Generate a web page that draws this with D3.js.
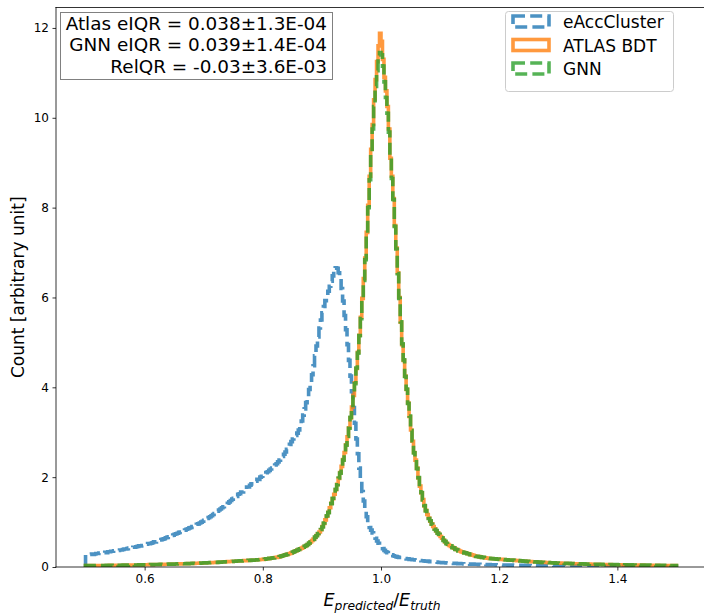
<!DOCTYPE html>
<html>
<head>
<meta charset="utf-8">
<script src="https://cdn.jsdelivr.net/npm/d3@7"></script>
<style>
  html, body { margin: 0; padding: 0; background: #fff; }
  svg { display: block; font-family: "DejaVu Sans", sans-serif; }
</style>
</head>
<body>
<svg id="chart" width="704" height="616"></svg>
<script>
// Histogram binning: 400 bins of width 0.0025 covering [0.5, 1.5]
const binStart = 0.5;
const binWidth = 0.0025;

// eAccCluster normalised counts per bin
const eAccCluster = [
  0.27,0.27,0.28,0.28,0.29,0.28,0.29,0.30,0.30,0.31,0.31,0.31,0.32,0.33,0.32,0.34,0.34,0.35,0.35,0.36,
  0.36,0.37,0.37,0.38,0.38,0.39,0.40,0.40,0.41,0.42,0.42,0.43,0.44,0.44,0.45,0.46,0.47,0.47,0.48,0.49,
  0.50,0.51,0.52,0.52,0.53,0.54,0.56,0.56,0.58,0.59,0.60,0.61,0.62,0.63,0.65,0.66,0.67,0.68,0.70,0.71,
  0.73,0.74,0.75,0.77,0.78,0.80,0.81,0.82,0.84,0.85,0.87,0.88,0.90,0.92,0.93,0.95,0.96,0.98,1.00,1.02,
  1.04,1.06,1.08,1.10,1.12,1.14,1.17,1.19,1.22,1.24,1.27,1.29,1.32,1.34,1.37,1.39,1.42,1.45,1.48,1.51,
  1.53,1.57,1.57,1.62,1.63,1.67,1.67,1.72,1.73,1.78,1.78,1.82,1.85,1.85,1.90,1.91,1.95,1.95,2.00,2.02,
  2.05,2.07,2.10,2.12,2.15,2.18,2.20,2.24,2.27,2.30,2.34,2.38,2.42,2.46,2.51,2.56,2.62,2.67,2.73,2.79,
  2.85,2.89,2.93,2.98,3.05,3.14,3.25,3.38,3.52,3.66,3.80,3.95,4.10,4.28,4.48,4.70,4.92,5.12,5.32,5.50,
  5.66,5.80,5.93,6.04,6.14,6.25,6.36,6.48,6.58,6.66,6.65,6.55,6.42,6.20,5.92,5.60,5.28,4.95,4.60,4.25,
  3.90,3.55,3.20,2.85,2.52,2.20,1.92,1.68,1.47,1.28,1.12,0.99,0.88,0.82,0.76,0.70,0.64,0.58,0.53,0.49,
  0.45,0.41,0.37,0.34,0.32,0.30,0.28,0.27,0.25,0.24,0.23,0.22,0.21,0.21,0.20,0.19,0.19,0.18,0.18,0.17,
  0.17,0.16,0.16,0.155,0.15,0.15,0.145,0.14,0.14,0.135,0.13,0.13,0.125,0.12,0.12,0.115,0.11,0.11,0.105,0.10,
  0.10,0.098,0.095,0.093,0.09,0.088,0.086,0.085,0.083,0.081,0.08,0.078,0.076,0.075,0.073,0.072,0.07,0.069,0.068,0.066,
  0.065,0.064,0.063,0.062,0.061,0.06,0.059,0.058,0.057,0.056,0.055,0.054,0.053,0.052,0.051,0.05,0.05,0.049,0.048,0.047,
  0.046,0.046,0.045,0.044,0.044,0.043,0.042,0.042,0.041,0.04,0.04,0.039,0.039,0.038,0.038,0.037,0.037,0.036,0.036,0.035,
  0.035,0.034,0.034,0.033,0.033,0.033,0.032,0.032,0.031,0.031,0.031,0.03,0.03,0.03,0.029,0.029,0.029,0.028,0.028,0.028,
  0.027,0.027,0.027,0.027,0.026,0.026,0.026,0.026,0.025,0.025,0.025,0.025,0.025,0.024,0.024,0.024,0.024,0.024,0.023,0.023,
  0.023,0.023,0.023,0.022,0.022,0.022,0.022,0.022,0.022,0.021,0.021,0.021,0.021,0.021,0.021,0.020,0.020,0.020,0.020,0.020,
  0.020,0.019,0.019,0.019,0.019,0.019,0.019,0.018,0.018,0.018,0.018,0.018,0.018,0.018,0.017,0.017,0.017,0.017,0.017,0.017,
  0.017,0.016,0.016,0.016,0.016,0.016,0.016,0.016,0.016,0.016,0.015,0.015,0.015,0.015,0.015,0.015,0.015,0.015,0.015,0.015
];

// ATLAS BDT normalised counts per bin
const atlasBDT = [
  0.030,0.030,0.031,0.031,0.031,0.032,0.032,0.032,0.033,0.033,0.033,0.034,0.034,0.035,0.035,0.035,0.036,0.036,0.037,0.037,
  0.038,0.038,0.039,0.039,0.040,0.040,0.041,0.041,0.042,0.042,0.043,0.044,0.044,0.045,0.045,0.046,0.047,0.047,0.048,0.049,
  0.050,0.050,0.051,0.052,0.052,0.053,0.054,0.055,0.055,0.056,0.057,0.058,0.059,0.060,0.060,0.061,0.062,0.063,0.064,0.065,
  0.066,0.067,0.068,0.069,0.070,0.071,0.072,0.073,0.074,0.075,0.077,0.078,0.079,0.080,0.082,0.083,0.084,0.086,0.087,0.089,
  0.090,0.092,0.093,0.095,0.096,0.098,0.100,0.101,0.103,0.105,0.107,0.109,0.111,0.113,0.115,0.117,0.119,0.121,0.123,0.125,
  0.127,0.129,0.131,0.133,0.135,0.137,0.139,0.141,0.143,0.145,0.147,0.149,0.151,0.153,0.155,0.157,0.160,0.163,0.166,0.168,
  0.170,0.175,0.180,0.185,0.190,0.195,0.200,0.205,0.210,0.215,0.220,0.230,0.240,0.250,0.260,0.270,0.280,0.290,0.300,0.315,
  0.330,0.345,0.360,0.375,0.390,0.405,0.420,0.440,0.460,0.480,0.50,0.53,0.56,0.59,0.62,0.66,0.70,0.74,0.78,0.83,
  0.90,0.97,1.05,1.13,1.22,1.32,1.42,1.52,1.62,1.72,1.84,1.97,2.10,2.24,2.39,2.55,2.72,2.90,3.10,3.32,
  3.56,3.82,4.10,4.42,4.78,5.16,5.56,5.98,6.42,6.88,7.45,8.05,8.70,9.30,9.85,10.40,10.85,11.25,11.60,11.88,
  11.70,11.30,10.90,10.60,10.25,9.75,9.10,8.70,8.20,7.60,7.10,6.55,6.00,5.45,4.95,4.60,4.25,3.95,3.65,3.35,
  3.05,2.80,2.55,2.38,2.20,1.98,1.80,1.65,1.50,1.36,1.26,1.17,1.09,1.02,0.96,0.90,0.85,0.80,0.76,0.72,
  0.68,0.64,0.60,0.56,0.53,0.50,0.48,0.46,0.44,0.42,0.40,0.385,0.37,0.355,0.34,0.33,0.32,0.31,0.30,0.29,
  0.28,0.27,0.26,0.25,0.24,0.235,0.23,0.22,0.215,0.21,0.205,0.200,0.195,0.190,0.188,0.185,0.182,0.180,0.177,0.175,
  0.172,0.170,0.167,0.165,0.162,0.160,0.157,0.155,0.152,0.150,0.147,0.145,0.142,0.140,0.137,0.135,0.132,0.130,0.127,0.125,
  0.122,0.120,0.118,0.116,0.114,0.112,0.110,0.108,0.106,0.104,0.102,0.100,0.099,0.097,0.096,0.094,0.093,0.091,0.090,0.088,
  0.087,0.086,0.084,0.083,0.082,0.080,0.079,0.078,0.077,0.076,0.074,0.073,0.072,0.071,0.070,0.069,0.068,0.067,0.066,0.065,
  0.064,0.063,0.062,0.061,0.060,0.059,0.059,0.058,0.057,0.056,0.055,0.055,0.054,0.053,0.053,0.052,0.051,0.051,0.050,0.050,
  0.049,0.049,0.048,0.048,0.047,0.047,0.046,0.046,0.045,0.045,0.044,0.044,0.043,0.043,0.042,0.042,0.041,0.041,0.040,0.040,
  0.039,0.039,0.038,0.038,0.037,0.037,0.036,0.036,0.035,0.035,0.034,0.034,0.033,0.033,0.032,0.032,0.031,0.031,0.030,0.030
];

// GNN normalised counts per bin
const gnn = [
  0.030,0.031,0.030,0.032,0.031,0.031,0.033,0.032,0.032,0.034,0.033,0.033,0.035,0.034,0.036,0.035,0.035,0.037,0.036,0.038,
  0.037,0.039,0.038,0.040,0.039,0.041,0.040,0.042,0.041,0.043,0.042,0.044,0.045,0.044,0.046,0.045,0.047,0.048,0.047,0.049,
  0.049,0.051,0.050,0.052,0.053,0.052,0.055,0.054,0.056,0.056,0.058,0.057,0.060,0.059,0.061,0.061,0.063,0.062,0.065,0.064,
  0.067,0.066,0.069,0.068,0.071,0.070,0.073,0.072,0.075,0.074,0.078,0.077,0.080,0.079,0.083,0.082,0.085,0.085,0.088,0.088,
  0.091,0.091,0.094,0.094,0.097,0.097,0.101,0.100,0.104,0.104,0.108,0.108,0.112,0.112,0.116,0.116,0.120,0.120,0.124,0.124,
  0.128,0.128,0.132,0.132,0.136,0.136,0.140,0.140,0.144,0.144,0.148,0.148,0.152,0.152,0.156,0.156,0.161,0.162,0.167,0.167,
  0.172,0.174,0.182,0.184,0.192,0.194,0.202,0.204,0.212,0.214,0.222,0.229,0.242,0.249,0.262,0.269,0.282,0.289,0.302,0.314,
  0.332,0.344,0.362,0.374,0.392,0.404,0.422,0.439,0.462,0.479,0.500,0.535,0.555,0.595,0.615,0.665,0.695,0.745,0.775,0.835,
  0.89,0.98,1.04,1.14,1.21,1.33,1.41,1.53,1.61,1.73,1.83,1.98,2.09,2.25,2.38,2.56,2.71,2.91,3.09,3.33,
  3.55,3.83,4.08,4.43,4.76,5.15,5.53,5.95,6.38,6.84,7.40,8.00,8.62,9.20,9.75,10.25,10.70,11.05,11.35,11.45,
  11.40,11.15,10.80,10.45,10.10,9.68,9.12,8.65,8.18,7.58,7.08,6.53,5.98,5.46,4.97,4.61,4.24,3.96,3.64,3.36,
  3.04,2.81,2.54,2.39,2.19,1.99,1.79,1.66,1.49,1.37,1.25,1.18,1.08,1.03,0.95,0.91,0.84,0.81,0.75,0.73,
  0.67,0.65,0.59,0.57,0.52,0.51,0.47,0.47,0.43,0.43,0.39,0.39,0.36,0.36,0.335,0.335,0.315,0.315,0.295,0.295,
  0.275,0.275,0.255,0.255,0.235,0.24,0.225,0.225,0.21,0.215,0.200,0.203,0.192,0.192,0.185,0.187,0.179,0.182,0.174,0.177,
  0.169,0.172,0.164,0.167,0.159,0.162,0.154,0.157,0.149,0.152,0.144,0.147,0.139,0.142,0.134,0.137,0.129,0.132,0.124,0.127,
  0.119,0.122,0.115,0.118,0.111,0.114,0.107,0.110,0.103,0.106,0.099,0.102,0.096,0.099,0.093,0.096,0.090,0.093,0.087,0.090,
  0.085,0.088,0.082,0.085,0.080,0.082,0.077,0.080,0.075,0.078,0.072,0.075,0.070,0.073,0.068,0.071,0.066,0.069,0.064,0.067,
  0.062,0.065,0.060,0.063,0.058,0.061,0.057,0.060,0.055,0.058,0.053,0.057,0.052,0.055,0.051,0.054,0.049,0.053,0.048,0.052,
  0.047,0.051,0.046,0.050,0.045,0.049,0.044,0.048,0.043,0.047,0.042,0.046,0.041,0.045,0.040,0.044,0.039,0.043,0.038,0.042,
  0.037,0.041,0.036,0.040,0.035,0.039,0.034,0.038,0.033,0.037,0.032,0.036,0.031,0.035,0.030,0.034,0.029,0.033,0.029,0.031
];

const xTicks = [0.6, 0.8, 1.0, 1.2, 1.4];
const yTicks = [0, 2, 4, 6, 8, 10, 12];
const statLines = [
  "Atlas eIQR = 0.038\u00b11.3E-04",
  "GNN eIQR = 0.039\u00b11.4E-04",
  "RelQR = -0.03\u00b13.6E-03"
];

const dashed = "12,5.2";
const seriesList = [
  { name: "eAccCluster", values: eAccCluster, color: "#1f77b4", dash: dashed },
  { name: "ATLAS BDT",   values: atlasBDT,    color: "#ff7f0e", dash: null },
  { name: "GNN",         values: gnn,         color: "#2ca02c", dash: dashed }
];

const svg = d3.select("#chart");
const plot = { left: 56, right: 706, top: 7.5, bottom: 567 };

const x = d3.scaleLinear().domain([0.45, 1.55]).range([plot.left, plot.right]);
const y = d3.scaleLinear().domain([0, 12.455]).range([plot.bottom, plot.top]);

// Step outline of a histogram, closed down to zero at both ends
function stepPoints(values) {
  const pts = [[binStart, 0]];
  values.forEach((v, i) => {
    const e0 = binStart + i * binWidth;
    pts.push([e0, v], [e0 + binWidth, v]);
  });
  pts.push([binStart + values.length * binWidth, 0]);
  return pts;
}

const line = d3.line().x(d => x(d[0])).y(d => y(d[1]));

svg.append("defs").append("clipPath").attr("id", "plotClip")
  .append("rect")
  .attr("x", plot.left).attr("y", plot.top)
  .attr("width", plot.right - plot.left).attr("height", plot.bottom - plot.top);

const gLines = svg.append("g").attr("clip-path", "url(#plotClip)");
seriesList.forEach(s => {
  gLines.append("path")
    .attr("d", line(stepPoints(s.values)))
    .attr("fill", "none")
    .attr("stroke", s.color)
    .attr("stroke-opacity", 0.8)
    .attr("stroke-width", 3.6)
    .attr("stroke-linejoin", "miter")
    .attr("stroke-dasharray", s.dash);
});

// Axes
const xAxis = d3.axisBottom(x).tickValues(xTicks).tickFormat(d3.format(".1f")).tickSize(3.5).tickPadding(3.5);
const yAxis = d3.axisLeft(y).tickValues(yTicks).tickFormat(d3.format("d")).tickSize(3.5).tickPadding(3.5);

const gx = svg.append("g").attr("transform", `translate(0,${plot.bottom})`).call(xAxis);
const gy = svg.append("g").attr("transform", `translate(${plot.left},0)`).call(yAxis);
[gx, gy].forEach(g => {
  g.select(".domain").remove();
  g.selectAll(".tick line").attr("stroke", "#000").attr("stroke-width", 0.8);
  g.selectAll(".tick text").attr("font-size", 12).attr("fill", "#000")
    .attr("font-family", "DejaVu Sans, sans-serif");
});

// Spines
[[plot.left, plot.top, plot.left, plot.bottom],
 [plot.left, plot.bottom, plot.right, plot.bottom],
 [plot.left, plot.top, plot.right, plot.top],
 [plot.right, plot.top, plot.right, plot.bottom]].forEach(c => {
  svg.append("line").attr("x1", c[0]).attr("y1", c[1]).attr("x2", c[2]).attr("y2", c[3])
    .attr("stroke", "#000").attr("stroke-width", 0.8)
    .attr("stroke-linecap", "square");
});

// Axis titles
svg.append("text")
  .attr("transform", `translate(24,${(plot.top + plot.bottom) / 2}) rotate(-90)`)
  .attr("text-anchor", "middle")
  .attr("font-size", 17)
  .text("Count [arbitrary unit]");

const xl = svg.append("text")
  .attr("x", (plot.left + plot.right) / 2 + 1)
  .attr("y", 606)
  .attr("text-anchor", "middle")
  .attr("font-size", 17.5)
  .attr("font-style", "italic");
xl.append("tspan").text("E");
xl.append("tspan").attr("font-size", 12.3).attr("dy", 3.5).text("predicted");
xl.append("tspan").attr("dy", -3.5).attr("font-style", "normal").text("/");
xl.append("tspan").text("E");
xl.append("tspan").attr("font-size", 12.3).attr("dy", 3.5).text("truth");

// Statistics box
const statG = svg.append("g");
statG.append("rect")
  .attr("x", 60.5).attr("y", 12.5).attr("width", 272).attr("height", 67)
  .attr("fill", "#fff").attr("stroke", "#808080").attr("stroke-width", 1);
statLines.forEach((t, i) => {
  statG.append("text")
    .attr("x", 327).attr("y", 30 + i * 21.3)
    .attr("text-anchor", "end")
    .attr("font-size", 18.4)
    .text(t);
});

// Legend
const lg = svg.append("g");
lg.append("rect")
  .attr("x", 505.5).attr("y", 11.5).attr("width", 168).attr("height", 80)
  .attr("rx", 3).attr("fill", "#fff").attr("fill-opacity", 0.8)
  .attr("stroke", "#ccc").attr("stroke-width", 1);
seriesList.forEach((s, i) => {
  const yy = 16 + i * 23.5;
  lg.append("rect")
    .attr("x", 513).attr("y", yy).attr("width", 36).attr("height", 11)
    .attr("fill", "none")
    .attr("stroke", s.color).attr("stroke-opacity", 0.8)
    .attr("stroke-width", 3.6)
    .attr("stroke-dasharray", s.dash);
  lg.append("text")
    .attr("x", 563).attr("y", yy + 12)
    .attr("font-size", 17)
    .text(s.name);
});
</script>
</body>
</html>
